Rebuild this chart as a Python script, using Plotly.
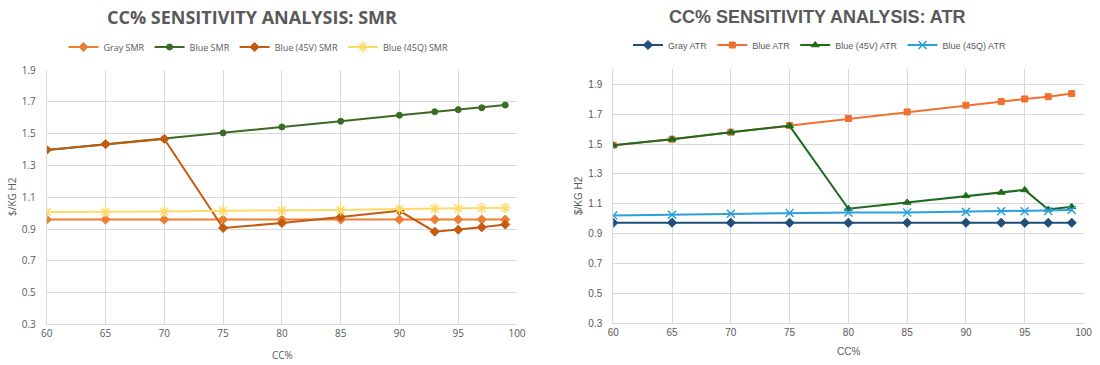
import plotly.graph_objects as go

cc = [60, 65, 70, 75, 80, 85, 90, 93, 95, 97, 99]

gray_smr = [0.96, 0.96, 0.96, 0.96, 0.96, 0.96, 0.96, 0.96, 0.96, 0.96, 0.96]
blue_smr = [1.398, 1.434, 1.467, 1.505, 1.542, 1.578, 1.616, 1.638, 1.651, 1.663, 1.680]
blue45v_smr = [1.398, 1.434, 1.467, 0.907, 0.938, 0.976, 1.015, 0.884, 0.896, 0.911, 0.929]
blue45q_smr = [1.007, 1.008, 1.010, 1.015, 1.016, 1.020, 1.026, 1.028, 1.030, 1.032, 1.034]

gray_atr = [0.973, 0.973, 0.973, 0.973, 0.973, 0.973, 0.973, 0.973, 0.973, 0.973, 0.973]
blue_atr = [1.492, 1.532, 1.579, 1.624, 1.671, 1.715, 1.760, 1.784, 1.802, 1.817, 1.838]
blue45v_atr = [1.492, 1.532, 1.579, 1.622, 1.067, 1.109, 1.153, 1.176, 1.193, 1.062, 1.080]
blue45q_atr = [1.022, 1.027, 1.033, 1.038, 1.042, 1.042, 1.046, 1.050, 1.050, 1.052, 1.058]

TXT = "#595959"
GRID = "#D9D9D9"
LF = "Open Sans"
RF = "Liberation Sans"

fig = go.Figure()

def add(x, y, name, color, symbol, size, xa, ya, leg, lw=1):
    fig.add_trace(go.Scatter(
        x=x, y=y, name=name, mode="lines+markers",
        line=dict(color=color, width=2),
        marker=dict(color=color, symbol=symbol, size=size, line=dict(color=color, width=lw)),
        xaxis=xa, yaxis=ya, legend=leg))

add(cc, gray_smr, "Gray SMR", "#ED7D31", "diamond", 7, "x", "y", "legend")
add(cc, blue_smr, "Blue SMR", "#3A6B22", "circle", 6, "x", "y", "legend")
add(cc, blue45v_smr, "Blue (45V) SMR", "#C55A11", "diamond", 7, "x", "y", "legend")
add(cc, blue45q_smr, "Blue (45Q) SMR", "#FFD966", "asterisk-open", 9, "x", "y", "legend", 1.5)

add(cc, gray_atr, "Gray ATR", "#1F4E79", "diamond", 7, "x2", "y2", "legend2")
add(cc, blue_atr, "Blue ATR", "#F07030", "square", 6, "x2", "y2", "legend2")
add(cc, blue45v_atr, "Blue (45V) ATR", "#1E6B1E", "triangle-up", 7, "x2", "y2", "legend2")
add(cc, blue45q_atr, "Blue (45Q) ATR", "#2AA0DC", "x-thin-open", 8, "x2", "y2", "legend2", 1.5)

xcommon = dict(range=[60, 100], tick0=60, dtick=5, showgrid=True, gridcolor=GRID, gridwidth=1,
               showline=True, linecolor=GRID, linewidth=1, zeroline=False, ticks="", automargin=False)
ycommon = dict(tick0=0.3, dtick=0.2, showgrid=True, gridcolor=GRID, gridwidth=1,
               showline=True, linecolor=GRID, linewidth=1, zeroline=False, tickformat=".1f",
               ticks="", automargin=False)

fig.update_layout(
    width=1100, height=365,
    margin=dict(l=0, r=0, t=0, b=0, autoexpand=False),
    paper_bgcolor="white", plot_bgcolor="white",
    xaxis=dict(domain=[0.0425, 0.470], anchor="y", tickfont=dict(family=LF, size=10, color=TXT), **xcommon),
    yaxis=dict(domain=[0.111, 0.808], anchor="x", range=[0.3, 1.9], ticklabelstandoff=8,
               tickfont=dict(family=LF, size=10, color=TXT), **ycommon),
    xaxis2=dict(domain=[0.5575, 0.985], anchor="y2", tickfont=dict(family=RF, size=10, color=TXT), **xcommon),
    yaxis2=dict(domain=[0.1142, 0.810], anchor="x2", range=[0.3, 2.0], ticklabelstandoff=8,
                tickfont=dict(family=RF, size=10, color=TXT), **ycommon),
    legend=dict(orientation="h", x=0.235, xanchor="center", y=1 - 47 / 365, yanchor="middle",
                font=dict(family=LF, size=9, color=TXT), itemwidth=30, bgcolor="rgba(0,0,0,0)"),
    legend2=dict(orientation="h", x=0.745, xanchor="center", y=1 - 45 / 365, yanchor="middle",
                 font=dict(family=RF, size=9, color=TXT), itemwidth=30, bgcolor="rgba(0,0,0,0)"),
    showlegend=True,
)

ann = [
    dict(text="<b>CC% SENSITIVITY ANALYSIS: SMR</b>", x=252 / 1100, y=1 - 17 / 365,
         font=dict(family=LF, size=18, color=TXT)),
    dict(text="<b>CC% SENSITIVITY ANALYSIS: ATR</b>", x=817 / 1100, y=1 - 17 / 365,
         font=dict(family=RF, size=18, color=TXT)),
    dict(text="CC%", x=282 / 1100, y=1 - 355 / 365, font=dict(family=LF, size=10, color=TXT)),
    dict(text="CC%", x=848 / 1100, y=1 - 351 / 365, font=dict(family=RF, size=10, color=TXT)),
    dict(text="$/KG H2", x=12 / 1100, y=1 - 197 / 365, textangle=-90, font=dict(family=LF, size=10, color=TXT)),
    dict(text="$/KG H2", x=578 / 1100, y=1 - 196 / 365, textangle=-90, font=dict(family=RF, size=10, color=TXT)),
]
for a in ann:
    fig.add_annotation(xref="paper", yref="paper", showarrow=False, xanchor="center", yanchor="middle", **a)

fig.write_html("out.html", config={"displayModeBar": False},
               post_script="document.body.style.margin='0px'; document.body.style.overflow='hidden';")
